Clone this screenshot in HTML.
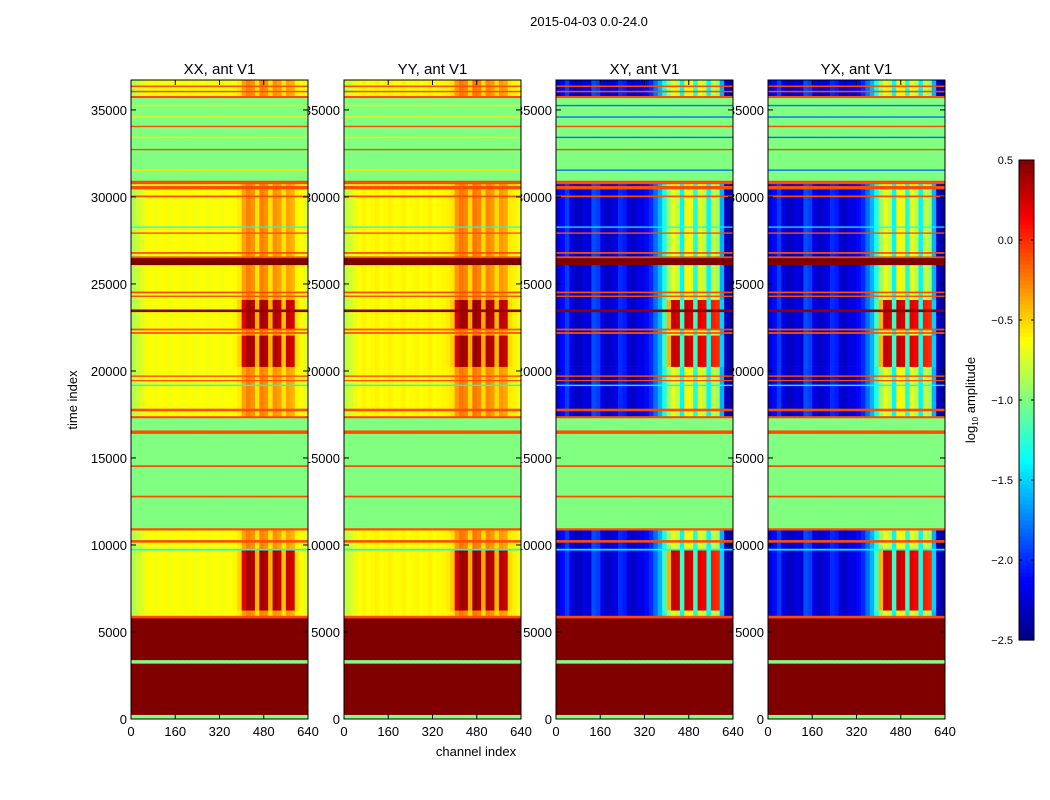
<!DOCTYPE html>
<html><head><meta charset="utf-8"><style>
body{margin:0;background:#fff;font-family:"Liberation Sans",sans-serif;}
#wrap{position:relative;width:1050px;height:800px;overflow:hidden;background:#fff}
</style></head><body>
<div id="wrap">
<svg id="svg" width="1050" height="800" style="position:absolute;left:0;top:0"></svg>
</div>
<script>
// ---- data ----
const panelTitles = ["XX, ant V1","YY, ant V1","XY, ant V1","YX, ant V1"];
const yTicks = [0,5000,10000,15000,20000,25000,30000,35000];
const xTicks = [0,160,320,480,640];
const cbTicks = [0.5,0.0,-0.5,-1.0,-1.5,-2.0,-2.5];
// time bands
const bandStarts = [0,250,3200,3400,5800,5950,6250,9700,9800,10150,10300,10850,10980,12750,12850,14500,14600,16400,16600,17300,17420,17700,17850,19150,19230,19430,19500,19680,19760,20250,22050,22150,22250,22350,22450,23400,23550,24100,24270,24350,24480,24580,26100,26500,26600,26750,26850,27900,27980,28250,28320,30000,30100,30450,30650,30750,30950,31520,31600,32700,32780,33400,33480,34030,34110,34570,34650,35230,35310,35700,35820,36030,36120,36330,36420];
const bandEnds   = [250,3200,3400,5800,5950,6250,9700,9800,10150,10300,10850,10980,12750,12850,14500,14600,16400,16600,17300,17420,17700,17850,19150,19230,19430,19500,19680,19760,20250,22050,22150,22250,22350,22450,23400,23550,24100,24270,24350,24480,24580,26100,26500,26600,26750,26850,27900,27980,28250,28320,30000,30100,30450,30650,30750,30950,31520,31600,32700,32780,33400,33480,34030,34110,34570,34650,35230,35310,35700,35820,36030,36120,36330,36420,36720];
const bandKinds  = ["flag","sat","flag","sat","line","warm","hot","cline","warm","line","warm","line","flag","line","flag","line","flag","line","flag","line","warm","line","warm","cline","warm","line","warm","line","warm","hot","warm","line","warm","line","hot","dline","hot","warm","line","warm","line","warm","sat","line","warm","line","warm","line","warm","cline","warm","line","warm","line","warm","line","flag","yline","flag","line","flag","yline","flag","line","flag","yline","flag","yline","flag","line","warm","line","warm","line","warm"];
// channel profiles (40 columns x 16 channels), log10 amplitude
const xxWarm = [-0.85,-0.78,-0.72,-0.66,-0.62,-0.66,-0.64,-0.62,-0.66,-0.64,-0.62,-0.66,-0.65,-0.62,-0.66,-0.64,-0.63,-0.66,-0.64,-0.62,-0.66,-0.64,-0.63,-0.62,-0.58,-0.35,-0.25,-0.3,-0.55,-0.25,-0.3,-0.55,-0.3,-0.35,-0.55,-0.35,-0.4,-0.6,-0.62,-0.7];
const xxHot  = [-0.85,-0.78,-0.72,-0.66,-0.62,-0.66,-0.64,-0.62,-0.66,-0.64,-0.62,-0.66,-0.65,-0.62,-0.66,-0.64,-0.63,-0.66,-0.64,-0.62,-0.66,-0.64,-0.63,-0.6,-0.5,0.2,0.4,0.35,-0.4,0.4,0.35,-0.4,0.35,0.3,-0.45,0.3,0.25,-0.55,-0.62,-0.7];
const xyWarm = [-2.2,-2.1,-1.95,-2.2,-2.3,-2.3,-2.2,-2.25,-1.9,-1.95,-2.2,-2.3,-2.25,-2.2,-2.0,-2.05,-2.25,-2.3,-2.2,-2.2,-2.1,-2.0,-1.8,-1.6,-1.3,-0.9,-0.7,-0.8,-1.4,-0.6,-0.7,-1.3,-0.7,-0.8,-1.4,-0.8,-0.9,-1.6,-2.3,-2.4];
const xyHot  = [-2.2,-2.1,-1.95,-2.2,-2.3,-2.3,-2.2,-2.25,-1.9,-1.95,-2.2,-2.3,-2.25,-2.2,-2.0,-2.05,-2.25,-2.3,-2.2,-2.2,-2.1,-2.0,-1.8,-1.6,-1.2,-0.4,0.3,0.25,-1.2,0.3,0.25,-1.2,0.2,0.15,-1.3,0.05,0.0,-1.5,-2.3,-2.4];
const yyShift = 0.03;
const satVal = 0.5, flagVal = -1.0, lineVal = -0.1, dlineVal = 0.45, ylineVal = -0.55, clineVal = -1.35;

// ---- axes ----
const panelX = [131,344,556,768], panelW = 177, plotTop = 80, plotBottom = 719;
const tMax = 36720, vMin = -2.5, vMax = 0.5;
const yScale = t => plotBottom - (t / tMax) * (plotBottom - plotTop);
const xScale = (p, ch) => panelX[p] + ch / 640 * panelW;
function jet(v){
  let t=(v-vMin)/(vMax-vMin); t=Math.max(0,Math.min(1,t));
  const c=x=>Math.round(255*Math.max(0,Math.min(1,x)));
  return `rgb(${c(1.5-Math.abs(4*t-3))},${c(1.5-Math.abs(4*t-2))},${c(1.5-Math.abs(4*t-1))})`;
}
const NS="http://www.w3.org/2000/svg", svg=document.getElementById('svg');
function mk(tag,attrs,parent){const e=document.createElementNS(NS,tag);for(const k in attrs)e.setAttribute(k,attrs[k]);(parent||svg).appendChild(e);return e;}
function txt(x,y,s,size,anchor,parent){const e=mk('text',{x:x,y:y,'font-size':size,'text-anchor':anchor||'middle','font-family':'Liberation Sans, sans-serif',fill:'#000'},parent);e.textContent=s;return e;}

for(let p=0;p<4;p++){
  for(const t of yTicks){
    const e=txt(panelX[p]-4,yScale(t)+5,String(t),13,'end');
    
    
  }
}
for(let p=0;p<4;p++){
  const g=mk('g',{});
  
  
  const cross = p>=2;
  for(let b=0;b<bandStarts.length;b++){
    const y1=yScale(bandEnds[b]), y2=yScale(bandStarts[b]);
    for(let c=0;c<40;c++){
      let v;
      const k=bandKinds[b];
      if(k==='sat')v=satVal;else if(k==='flag')v=flagVal;else if(k==='line')v=lineVal;
      else if(k==='dline')v=dlineVal;else if(k==='yline')v=(cross?-1.8:ylineVal);else if(k==='cline')v=clineVal;
      else if(k==='warm')v=cross?xyWarm[c]:xxWarm[c]+(p===1?yyShift:0);
      else v=cross?xyHot[c]:xxHot[c]+(p===1?yyShift:0);
      const r=mk('rect',{x:xScale(p,c*16),y:y1,width:panelW/40+0.5,height:Math.max(0.8,y2-y1)+0.3,fill:jet(v)},g);
      
      
    }
  }
  const fr=mk('rect',{x:panelX[p],y:plotTop,width:panelW,height:plotBottom-plotTop,fill:'none',stroke:'#000','stroke-width':1});
  
  
  for(const t of yTicks){
    mk('line',{x1:panelX[p],x2:panelX[p]+5,y1:yScale(t),y2:yScale(t),stroke:'#000'});
    mk('line',{x1:panelX[p]+panelW,x2:panelX[p]+panelW-5,y1:yScale(t),y2:yScale(t),stroke:'#000'});
  }
  for(const c of xTicks){
    mk('line',{x1:xScale(p,c),x2:xScale(p,c),y1:plotBottom,y2:plotBottom-5,stroke:'#000'});
    mk('line',{x1:xScale(p,c),x2:xScale(p,c),y1:plotTop,y2:plotTop+5,stroke:'#000'});
    const e=txt(xScale(p,c),plotBottom+17,String(c),13,'middle');
    
    
  }
  const tt=txt(panelX[p]+panelW/2,74,panelTitles[p],15,'middle');
  
  
}
const st=txt(589,26,'2015-04-03 0.0-24.0',13,'middle');


const xl=txt(476,756,'channel index',13,'middle');


const yl=txt(0,0,'time index',13,'middle');
yl.setAttribute('transform','translate(77,400) rotate(-90)');


// colorbar
const cbX=1019,cbW=15,cbTop=160,cbBot=640;
const cbScale=v=>cbBot-(v-vMin)/(vMax-vMin)*(cbBot-cbTop);
const cg=mk('g',{});


for(let i=0;i<120;i++){
  const v=vMin+(i+0.5)/120*(vMax-vMin);
  mk('rect',{x:cbX,y:cbScale(vMin+(i+1)/120*(vMax-vMin)),width:cbW,height:(cbBot-cbTop)/120+0.6,fill:jet(v)},cg);
}
mk('rect',{x:cbX,y:cbTop,width:cbW,height:cbBot-cbTop,fill:'none',stroke:'#000'},cg);
for(const v of cbTicks){
  mk('line',{x1:cbX,x2:cbX+3,y1:cbScale(v),y2:cbScale(v),stroke:'#000'},cg);
  mk('line',{x1:cbX+cbW-3,x2:cbX+cbW,y1:cbScale(v),y2:cbScale(v),stroke:'#000'},cg);
  const e=txt(1013,cbScale(v)+4,v.toFixed(1).replace('-','\u2212'),11,'end',cg);
  
  
}
const cl=mk('text',{'font-size':13,'text-anchor':'middle','font-family':'Liberation Sans, sans-serif',transform:'translate(975,400) rotate(-90)'});
cl.innerHTML='log<tspan font-size="8" dy="3">10</tspan><tspan dy="-3"> amplitude</tspan>';


</script>
</body></html>
